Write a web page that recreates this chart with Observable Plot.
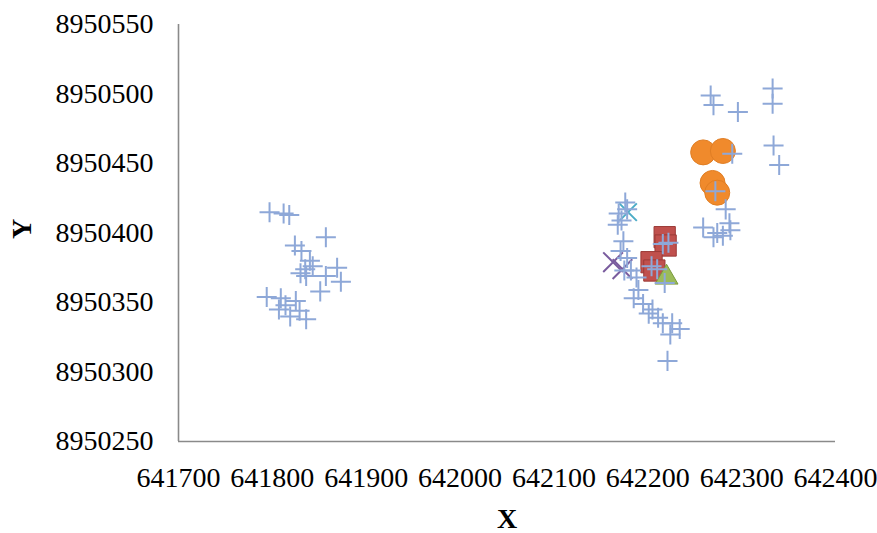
<!DOCTYPE html>
<html>
<head>
<meta charset="utf-8">
<script src="https://cdn.jsdelivr.net/npm/d3@7"></script>
<script src="https://cdn.jsdelivr.net/npm/@observablehq/plot@0.6"></script>
<style>
  html, body { margin: 0; padding: 0; background: #fff; }
</style>
</head>
<body>
<div id="chart"></div>
<script>
// Axis ticks
const xTicks = [641700, 641800, 641900, 642000, 642100, 642200, 642300, 642400];
const yTicks = [8950250, 8950300, 8950350, 8950400, 8950450, 8950500, 8950550];

// Blue "+" series
const plusX = [
  641797, 641812, 641818, 641824, 641857, 641831, 641840, 641835, 641843, 641830, 641836, 641869,
  641873, 641857, 641851, 641794, 641809, 641814, 641825, 641829, 641819, 641836, 641807,
  642176, 642178, 642169, 642172, 642168, 642174, 642171, 642178, 642175, 642182, 642188, 642190,
  642185, 642195, 642205, 642201, 642211, 642216, 642226, 642234, 642224, 642221, 642216, 642222,
  642204, 642210, 642218, 642259,
  642267, 642270, 642296, 642333, 642333, 642334, 642340, 642290, 642272, 642283, 642287, 642274,
  642280, 642288, 642270
];
const plusY = [
  8950415, 8950414, 8950413, 8950391, 8950397, 8950387, 8950380, 8950374, 8950376, 8950371, 8950369, 8950375,
  8950365, 8950369, 8950358, 8950354, 8950353, 8950348, 8950351, 8950344, 8950340, 8950338, 8950345,
  8950422, 8950417, 8950414, 8950409, 8950406, 8950394, 8950387, 8950382, 8950373, 8950373, 8950368, 8950359,
  8950353, 8950349, 8950345, 8950342, 8950339, 8950335, 8950335, 8950331, 8950327, 8950308, 8950392, 8950393,
  8950376, 8950374, 8950364, 8950404,
  8950499, 8950492, 8950487, 8950504, 8950493, 8950463, 8950449, 8950457, 8950430, 8950417, 8950407, 8950400,
  8950398, 8950402, 8950397
];

// Orange circles
const circleX = [642259, 642280, 642269, 642274];
const circleY = [8950458, 8950459, 8950436, 8950429];

// Red squares
const squareX = [642218, 642219, 642204, 642207];
const squareY = [8950397, 8950391, 8950379, 8950373];

// Green triangle
const triX = [642220];
const triY = [8950368];

// Purple "x"
const timesX = [642163, 642173];
const timesY = [8950379, 8950374];

// Teal "x"
const tealX = [642179];
const tealY = [8950415];

const toRows = (xs, ys) => xs.map((x, i) => ({x, y: ys[i]}));

const plot = Plot.plot({
  width: 877,
  height: 533,
  marginLeft: 178,
  marginRight: 42,
  marginTop: 24,
  marginBottom: 92,
  style: {fontFamily: "'Liberation Serif', 'Times New Roman', serif", fontSize: "28px", color: "#000", background: "#fff"},
  x: {domain: [641700, 642400]},
  y: {domain: [8950250, 8950550]},
  marks: [
    Plot.axisX({ticks: xTicks, tickSize: 0, tickPadding: 26, tickFormat: d => String(d), label: null, fontSize: 28}),
    Plot.axisY({ticks: yTicks, tickSize: 0, tickPadding: 25, tickFormat: d => String(d), label: null, fontSize: 28}),
    Plot.ruleX([641700], {stroke: "#8a8a8a", strokeWidth: 1.6}),
    Plot.ruleY([8950250], {stroke: "#8a8a8a", strokeWidth: 1.6}),
    Plot.dot(toRows(squareX, squareY), {x: "x", y: "y", symbol: "square", r: 12, fill: "#c0504d", stroke: "#9b3a37", strokeWidth: 1}),
    Plot.dot(toRows(triX, triY), {x: "x", y: "y", symbol: "triangle", r: 8.5, fill: "#9bbb59", stroke: "#7a9a3e", strokeWidth: 1}),
    Plot.dot(toRows(circleX, circleY), {x: "x", y: "y", symbol: "circle", r: 12.5, fill: "#f08a2c", stroke: "#e07e24", strokeWidth: 1}),
    Plot.dot(toRows(timesX, timesY), {x: "x", y: "y", symbol: "times", r: 9, stroke: "#7a5c9e", strokeWidth: 2}),
    Plot.dot(toRows(tealX, tealY), {x: "x", y: "y", symbol: "times", r: 8, stroke: "#4bacc6", strokeWidth: 2}),
    Plot.dot(toRows(plusX, plusY), {x: "x", y: "y", symbol: "plus", r: 6.5, stroke: "#8ea8d8", strokeWidth: 2}),
    Plot.text(["X"], {frameAnchor: "bottom", dy: 86, fontWeight: "bold", fontSize: 28, fill: "#000"}),
    Plot.text(["Y"], {frameAnchor: "left", dx: -156, dy: 6, rotate: -90, fontWeight: "bold", fontSize: 28, fill: "#000"})
  ]
});
document.getElementById("chart").appendChild(plot);
</script>
</body>
</html>
